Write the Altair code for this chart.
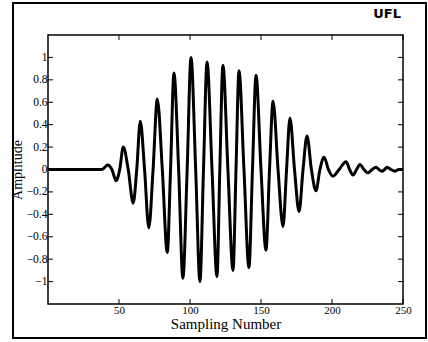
import altair as alt
import pandas as pd

# Sample positions and amplitudes
sample = [0, 38, 42, 45, 48, 50.5, 53, 56.5, 60, 62.5, 65, 68, 71, 74, 77, 80.5, 84, 86.3,
          88.7, 92, 95, 98, 100.7, 104, 107, 109.5, 112, 115.5, 119, 121, 123.2, 126.7,
          130.3, 132.4, 134.5, 138, 141.5, 144, 146.5, 150, 153.5, 156, 158.5, 162, 165.5,
          168, 170.4, 173.6, 176.8, 179.6, 182.4, 185.5, 188.7, 191.5, 194.4, 197.5, 200.7,
          205, 209.9, 212.4, 214.8, 217.3, 219.7, 222.5, 225.4, 228.2, 231, 233, 235.2, 237,
          238.7, 241.5, 244.4, 247, 250]
amplitude = [0, 0, 0.04, 0, -0.1, 0, 0.2, 0, -0.30, 0, 0.43, 0, -0.52, 0, 0.63, 0, -0.74, 0,
             0.86, 0, -0.97, 0, 1.0, 0, -1.0, 0, 0.96, 0, -0.955, 0, 0.93, 0,
             -0.9, 0, 0.88, 0, -0.875, 0, 0.84, 0, -0.72, 0, 0.61, 0, -0.51,
             0, 0.46, 0, -0.375, 0, 0.30, 0, -0.19, 0, 0.11, 0, -0.06,
             0, 0.07, 0, -0.05, 0, 0.045, 0, -0.03, 0, 0.02, 0, -0.015, 0,
             0.02, 0, -0.015, 0, 0]

x_ticks = [50, 100, 150, 200, 250]
y_ticks = [-1, -0.8, -0.6, -0.4, -0.2, 0, 0.2, 0.4, 0.6, 0.8, 1]

W, H = 355, 269
FONT = "Liberation Serif"

df = pd.DataFrame({"Sampling Number": sample, "Amplitude": amplitude})
xt = pd.DataFrame({"t": x_ticks})
yt = pd.DataFrame({"t": y_ticks})

xs = alt.Scale(domain=[0, 250], nice=False, zero=False)
ys = alt.Scale(domain=[-1.2, 1.2], nice=False)

x_axis = alt.Axis(values=x_ticks, ticks=False, grid=False, domain=False,
                  labelFont=FONT, labelFontSize=11, labelColor="black",
                  labelPadding=0, labelOverlap=False, labelFlush=False,
                  title="Sampling Number", titleFont=FONT,
                  titleFontSize=15, titleFontWeight="normal", titleColor="black",
                  titlePadding=1)
y_axis = alt.Axis(values=y_ticks, ticks=False, grid=False, domain=False,
                  format=".2~f", labelFont=FONT, labelFontSize=11.5,
                  labelColor="black", labelPadding=1, labelOverlap=False,
                  labelFlush=False, title="Amplitude",
                  titleFont=FONT, titleFontSize=14, titleFontWeight="normal",
                  titleColor="black", titlePadding=2)

line = alt.Chart(df).mark_line(color="black", strokeWidth=3, interpolate="monotone").encode(
    x=alt.X("Sampling Number:Q", scale=xs, axis=x_axis, title="Sampling Number"),
    y=alt.Y("Amplitude:Q", scale=ys, axis=y_axis, title="Amplitude"),
)

top_ticks = alt.Chart(xt).mark_rule(color="black", strokeWidth=1).encode(
    x=alt.X("t:Q", scale=xs, axis=x_axis, title="Sampling Number"),
    y=alt.value(0), y2=alt.value(5))
bot_ticks = alt.Chart(xt).mark_rule(color="black", strokeWidth=1).encode(
    x=alt.X("t:Q", scale=xs, axis=x_axis, title="Sampling Number"),
    y=alt.value(H), y2=alt.value(H - 5))
left_ticks = alt.Chart(yt).mark_rule(color="black", strokeWidth=1).encode(
    y=alt.Y("t:Q", scale=ys, axis=y_axis, title="Amplitude"),
    x=alt.value(0), x2=alt.value(5))
right_ticks = alt.Chart(yt).mark_rule(color="black", strokeWidth=1).encode(
    y=alt.Y("t:Q", scale=ys, axis=y_axis, title="Amplitude"),
    x=alt.value(W - 5), x2=alt.value(W))

frame = alt.Chart(pd.DataFrame({"a": [0]})).mark_rect(
    fill=None, stroke="black", strokeWidth=2).encode(
    x=alt.value(-35), x2=alt.value(378), y=alt.value(-32), y2=alt.value(303))

logo = alt.Chart(pd.DataFrame({"s": ["UFL"]})).mark_text(
    font="DejaVu Sans", fontSize=13, fontWeight="bold", color="black", align="right",
    baseline="middle").encode(text="s:N", x=alt.value(353), y=alt.value(-21))

chart = alt.layer(line, frame, top_ticks, bot_ticks, left_ticks, right_ticks, logo).properties(
    width=W, height=H,
    autosize=alt.AutoSizeParams(type="none"),
    padding={"left": 48, "top": 35, "right": 25, "bottom": 38},
    background="white",
).configure_view(stroke="black", strokeWidth=1.5).configure_axis(
    labelFont=FONT, titleFont=FONT)

chart.save("out.html", embed_options={"renderer": "svg", "actions": False})
